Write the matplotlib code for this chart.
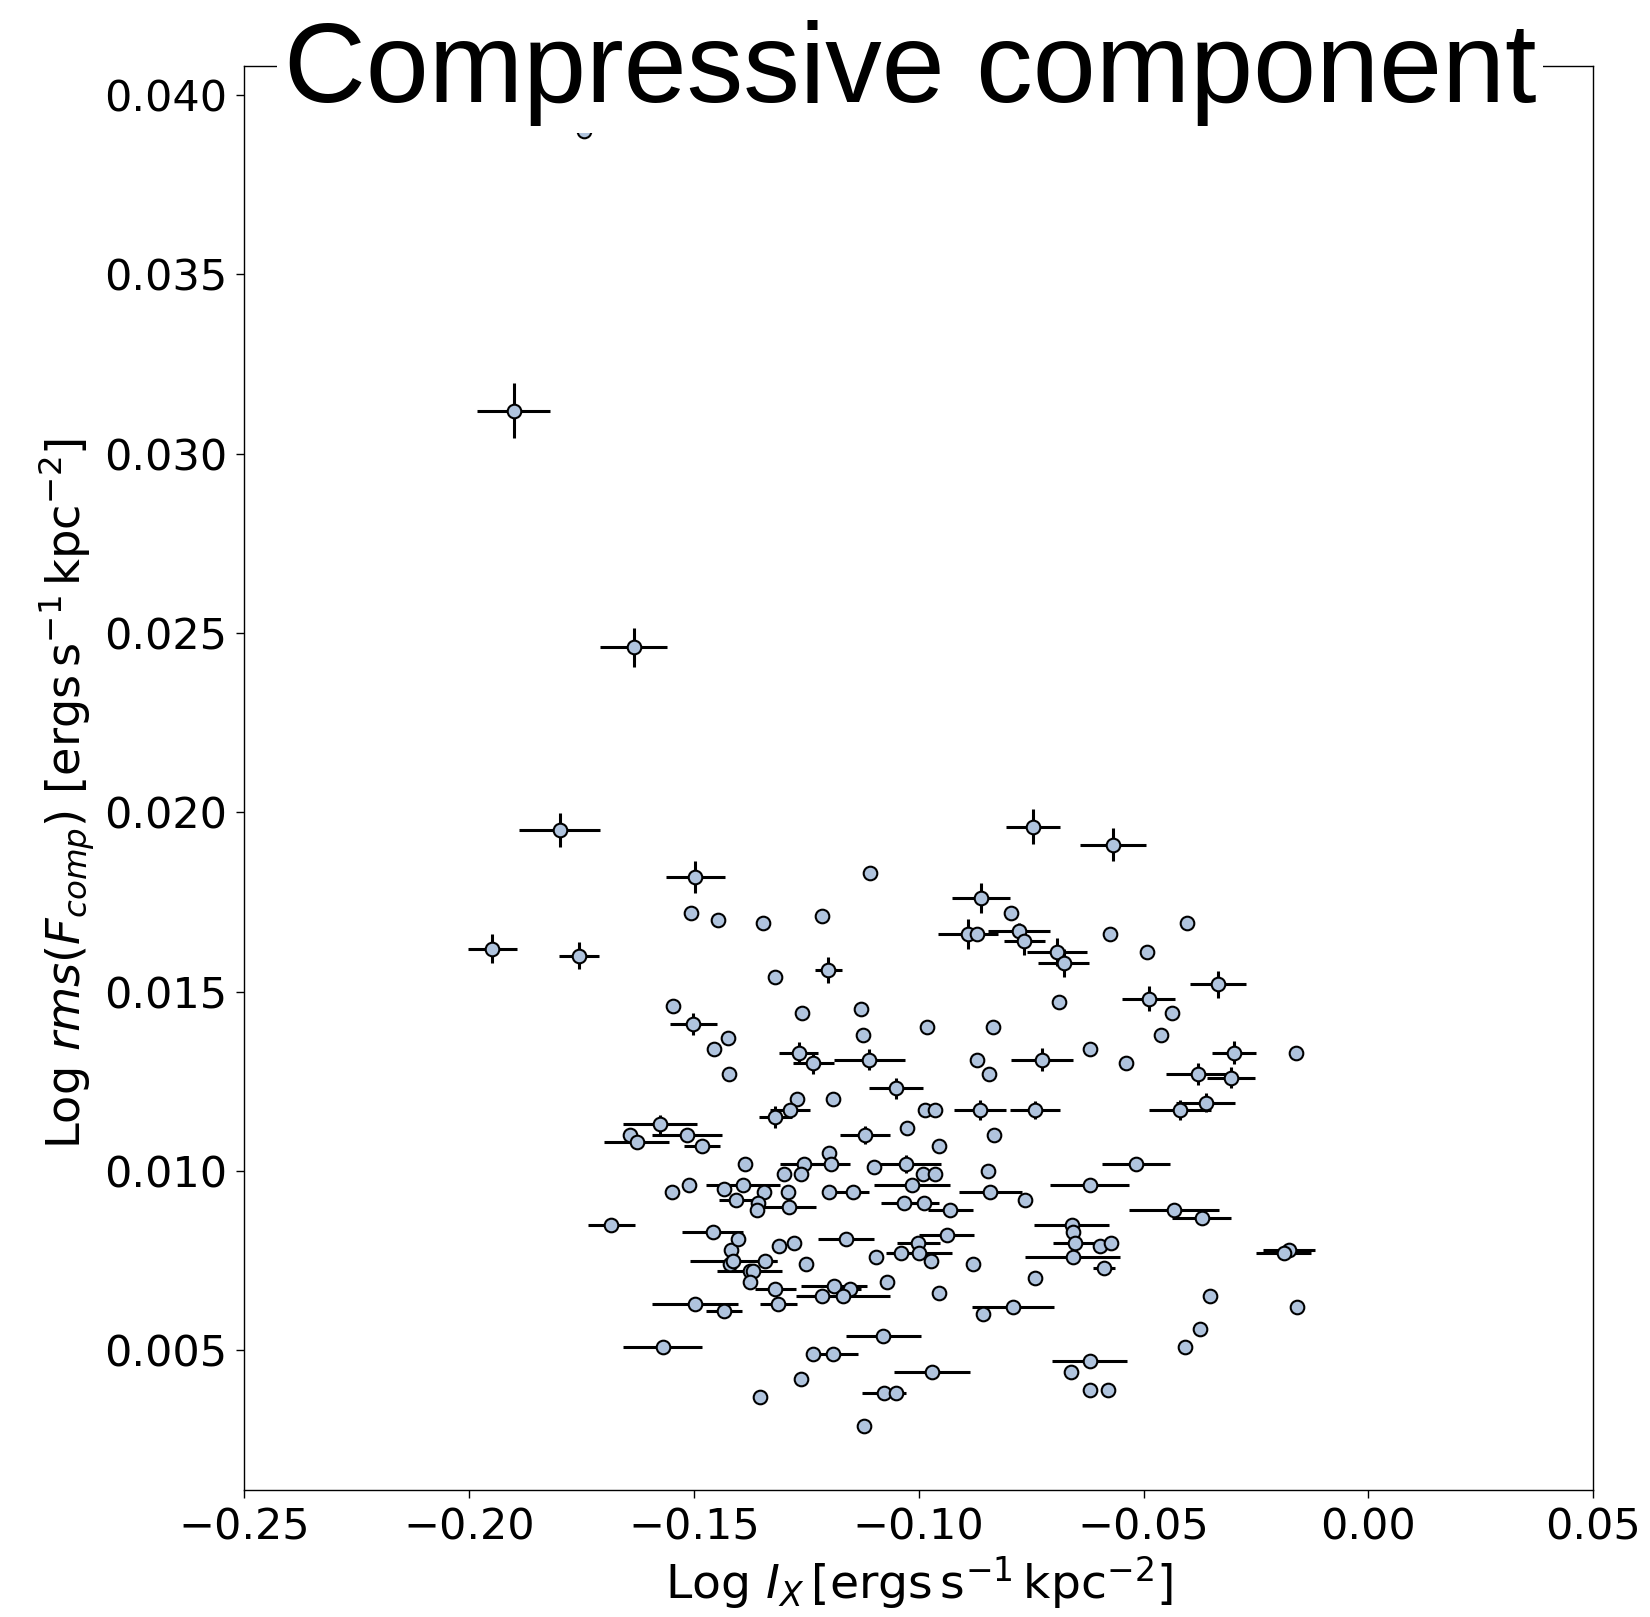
import matplotlib
matplotlib.use("Agg")
import matplotlib.pyplot as plt
import numpy as np

# Log surface brightness (x) and log rms of the compressive fluctuation (y), with 1-sigma errors
log_ix = [
    -0.1744, -0.1901, -0.1634, -0.1798, -0.1948, -0.1755,
    -0.1497, -0.1507, -0.1446, -0.1346, -0.1214, -0.1201, -0.1319, -0.1546, -0.1260,
    -0.0746, -0.1108, -0.0861, -0.0795, -0.0891, -0.0871, -0.0777, -0.0765, -0.0693,
    -0.0678, -0.0688, -0.1128,
    -0.0568, -0.0404, -0.0575, -0.0492, -0.0334, -0.0489, -0.0437,
    -0.1501, -0.1425, -0.1455, -0.1422, -0.1267, -0.1234, -0.1271, -0.1286, -0.1319,
    -0.1575, -0.1643, -0.1627, -0.1516, -0.1482, -0.1386, -0.1255, -0.1299, -0.1262,
    -0.1199, -0.1194, -0.1549, -0.1510, -0.1433, -0.1391, -0.1345, -0.1290, -0.1200,
    -0.1406, -0.1358, -0.1360, -0.1288, -0.1684, -0.1458,
    -0.1124, -0.0982, -0.0834, -0.1110, -0.0871, -0.0843, -0.0726, -0.1050, -0.1190,
    -0.0987, -0.0963, -0.0864, -0.0741, -0.1119, -0.1027, -0.0832, -0.0956, -0.1099,
    -0.1028, -0.0991, -0.0964, -0.0845, -0.1015, -0.1147, -0.0841, -0.0764, -0.1033,
    -0.0988, -0.0930, -0.0660, -0.0656,
    -0.0461, -0.0619, -0.0539, -0.0299, -0.0161, -0.0378, -0.0306, -0.0362, -0.0420,
    -0.0517, -0.0620, -0.0432, -0.0371,
    -0.1417, -0.1401, -0.1310, -0.1277, -0.1420, -0.1412, -0.1342, -0.1376, -0.1369,
    -0.1375, -0.1251, -0.1319, -0.1312, -0.1497, -0.1433, -0.1216, -0.1569, -0.1234,
    -0.1191, -0.1262, -0.1354,
    -0.1162, -0.1001, -0.0938, -0.1095, -0.1039, -0.0999, -0.0973, -0.0880, -0.0658,
    -0.0652, -0.0741, -0.1188, -0.1153, -0.1168, -0.1071, -0.0954, -0.0856, -0.0790,
    -0.1079, -0.0971, -0.1077, -0.1050, -0.1122, -0.0662, -0.0620,
    -0.0597, -0.0572, -0.0588, -0.0176, -0.0188, -0.0159, -0.0352, -0.0374, -0.0408,
    -0.0620, -0.0578,
]

log_rms = [
    0.0390, 0.0312, 0.0246, 0.0195, 0.0162, 0.0160,
    0.0182, 0.0172, 0.0170, 0.0169, 0.0171, 0.0156, 0.0154, 0.0146, 0.0144,
    0.0196, 0.0183, 0.0176, 0.0172, 0.0166, 0.0166, 0.0167, 0.0164, 0.0161,
    0.0158, 0.0147, 0.0145,
    0.0191, 0.0169, 0.0166, 0.0161, 0.0152, 0.0148, 0.0144,
    0.0141, 0.0137, 0.0134, 0.0127, 0.0133, 0.0130, 0.0120, 0.0117, 0.0115,
    0.0113, 0.0110, 0.0108, 0.0110, 0.0107, 0.0102, 0.0102, 0.0099, 0.0099,
    0.0105, 0.0102, 0.0094, 0.0096, 0.0095, 0.0096, 0.0094, 0.0094, 0.0094,
    0.0092, 0.0091, 0.0089, 0.0090, 0.0085, 0.0083,
    0.0138, 0.0140, 0.0140, 0.0131, 0.0131, 0.0127, 0.0131, 0.0123, 0.0120,
    0.0117, 0.0117, 0.0117, 0.0117, 0.0110, 0.0112, 0.0110, 0.0107, 0.0101,
    0.0102, 0.0099, 0.0099, 0.0100, 0.0096, 0.0094, 0.0094, 0.0092, 0.0091,
    0.0091, 0.0089, 0.0085, 0.0083,
    0.0138, 0.0134, 0.0130, 0.0133, 0.0133, 0.0127, 0.0126, 0.0119, 0.0117,
    0.0102, 0.0096, 0.0089, 0.0087,
    0.0078, 0.0081, 0.0079, 0.0080, 0.0074, 0.0075, 0.0075, 0.0072, 0.0072,
    0.0069, 0.0074, 0.0067, 0.0063, 0.0063, 0.0061, 0.0065, 0.0051, 0.0049,
    0.0049, 0.0042, 0.0037,
    0.0081, 0.0080, 0.0082, 0.0076, 0.0077, 0.0077, 0.0075, 0.0074, 0.0076,
    0.0080, 0.0070, 0.0068, 0.0067, 0.0065, 0.0069, 0.0066, 0.0060, 0.0062,
    0.0054, 0.0044, 0.0038, 0.0038, 0.0029, 0.0044, 0.0047,
    0.0079, 0.0080, 0.0073, 0.0078, 0.0077, 0.0062, 0.0065, 0.0056, 0.0051,
    0.0039, 0.0039,
]

log_ix_err = [
    0.0, 0.0082, 0.0074, 0.0090, 0.0054, 0.0045,
    0.0066, 0.0, 0.0, 0.0, 0.0, 0.0030, 0.0, 0.0, 0.0,
    0.0060, 0.0, 0.0064, 0.0, 0.0067, 0.0, 0.0070, 0.0046, 0.0067,
    0.0056, 0.0, 0.0,
    0.0074, 0.0, 0.0, 0.0, 0.0062, 0.0060, 0.0,
    0.0053, 0.0, 0.0, 0.0, 0.0044, 0.0045, 0.0, 0.0045, 0.0037,
    0.0083, 0.0, 0.0072, 0.0078, 0.0041, 0.0, 0.0053, 0.0, 0.0,
    0.0, 0.0042, 0.0, 0.0, 0.0, 0.0082, 0.0, 0.0, 0.0,
    0.0039, 0.0, 0.0, 0.0059, 0.0052, 0.0068,
    0.0, 0.0, 0.0, 0.0079, 0.0, 0.0, 0.0069, 0.0060, 0.0,
    0.0, 0.0, 0.0057, 0.0055, 0.0056, 0.0, 0.0, 0.0, 0.0,
    0.0078, 0.0, 0.0, 0.0, 0.0084, 0.0036, 0.0070, 0.0, 0.0050,
    0.0034, 0.0050, 0.0084, 0.0,
    0.0, 0.0, 0.0, 0.0048, 0.0, 0.0073, 0.0053, 0.0065, 0.0069,
    0.0075, 0.0087, 0.0100, 0.0065,
    0.0, 0.0, 0.0, 0.0, 0.0, 0.0096, 0.0026, 0.0072, 0.0,
    0.0, 0.0, 0.0046, 0.0042, 0.0096, 0.0040, 0.0052, 0.0088, 0.0,
    0.0057, 0.0, 0.0,
    0.0063, 0.0048, 0.0062, 0.0, 0.0030, 0.0074, 0.0, 0.0, 0.0105,
    0.0050, 0.0, 0.0073, 0.0025, 0.0104, 0.0, 0.0, 0.0, 0.0091,
    0.0083, 0.0085, 0.0049, 0.0, 0.0, 0.0, 0.0083,
    0.0, 0.0, 0.0024, 0.0058, 0.0061, 0.0, 0.0, 0.0, 0.0,
    0.0, 0.0,
]

log_rms_err = [
    0.0, 0.00076, 0.00054, 0.00048, 0.00040, 0.00038,
    0.00045, 0.0, 0.0, 0.0, 0.0, 0.00037, 0.0, 0.0, 0.0,
    0.00048, 0.0, 0.00042, 0.0, 0.00041, 0.0, 0.00020, 0.00037, 0.00040,
    0.00038, 0.0, 0.0,
    0.00046, 0.0, 0.0, 0.0, 0.00037, 0.00035, 0.0,
    0.00030, 0.0, 0.0, 0.0, 0.00030, 0.00030, 0.0, 0.0, 0.00030,
    0.00026, 0.0, 0.00020, 0.00020, 0.00020, 0.0, 0.0, 0.0, 0.0,
    0.0, 0.0, 0.0, 0.0, 0.0, 0.0, 0.0, 0.0, 0.0,
    0.0, 0.0, 0.0, 0.0, 0.0, 0.0,
    0.0, 0.0, 0.0, 0.00030, 0.0, 0.0, 0.00032, 0.00030, 0.0,
    0.0, 0.0, 0.00029, 0.00026, 0.00025, 0.0, 0.0, 0.0, 0.0,
    0.00025, 0.0, 0.0, 0.0, 0.0, 0.0, 0.0, 0.0, 0.0,
    0.0, 0.0, 0.0, 0.0,
    0.0, 0.0, 0.0, 0.00032, 0.0, 0.00030, 0.00030, 0.00026, 0.00028,
    0.0, 0.0, 0.0, 0.0,
    0.0, 0.0, 0.0, 0.0, 0.0, 0.0, 0.0, 0.0, 0.0,
    0.0, 0.0, 0.0, 0.0, 0.0, 0.0, 0.0, 0.0, 0.0,
    0.0, 0.0, 0.0,
    0.0, 0.0, 0.0, 0.0, 0.0, 0.0, 0.0, 0.0, 0.0,
    0.0, 0.0, 0.0, 0.0, 0.0, 0.0, 0.0, 0.0, 0.0,
    0.0, 0.0, 0.0, 0.0, 0.0, 0.0, 0.0,
    0.0, 0.0, 0.0, 0.0, 0.0, 0.0, 0.0, 0.0, 0.0,
    0.0, 0.0,
]

x_ticks = [-0.25, -0.20, -0.15, -0.10, -0.05, 0.00, 0.05]
y_ticks = [0.005, 0.010, 0.015, 0.020, 0.025, 0.030, 0.035, 0.040]

fig = plt.figure(figsize=(16.5, 16.17), dpi=100)
ax = fig.add_axes([0.148, 0.0785, 0.8176, 0.8805])

ax.errorbar(log_ix, log_rms, xerr=log_ix_err, yerr=log_rms_err,
            fmt="none", ecolor="black", elinewidth=2.2, capsize=0, zorder=2)
ax.plot(log_ix, log_rms, linestyle="none", marker="o", markersize=9.8,
        markerfacecolor="lightsteelblue", markeredgecolor="black",
        markeredgewidth=1.5, zorder=3)

ax.set_xlim(-0.25, 0.05)
ax.set_ylim(0.0011, 0.0408)
ax.set_xticks(x_ticks)
ax.set_yticks(y_ticks)
ax.tick_params(axis="both", labelsize=31, length=6, width=1.0, pad=6)
for sp in ax.spines.values():
    sp.set_linewidth(1.0)

ax.set_xlabel(r"Log $I_X\,[\mathrm{ergs\,s^{-1}\,kpc^{-2}}]$", fontsize=34, labelpad=4)
ax.set_ylabel(r"Log $rms(F_{comp})$ $[\mathrm{ergs\,s^{-1}\,kpc^{-2}}]$", fontsize=33.4, labelpad=5)
ax.yaxis.label.set_y(0.489)

fig.text(0.5515, 1 - 102 / 1617, "Compressive component", ha="center", va="baseline",
         fontsize=81.5, family="Liberation Sans", zorder=10,
         bbox=dict(facecolor="white", edgecolor="none", pad=5))

fig.savefig("out.png", dpi=100)
